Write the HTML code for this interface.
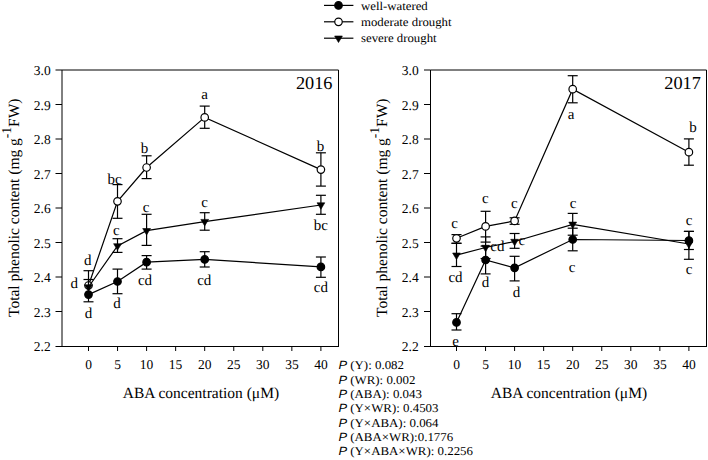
<!DOCTYPE html><html><head><meta charset="utf-8"><style>
html,body{margin:0;padding:0;background:#fff;}
svg{display:block;text-rendering:geometricPrecision;}
.tk{font-family:"Liberation Serif", serif;font-size:13.5px;fill:#000;}
.lb{font-family:"Liberation Serif", serif;font-size:15px;fill:#000;}
.ti{font-family:"Liberation Serif", serif;font-size:15.5px;fill:#000;}
.yr{font-family:"Liberation Serif", serif;font-size:18.3px;fill:#000;}
.lg{font-family:"Liberation Serif", serif;font-size:12px;fill:#000;}
.st{font-family:"Liberation Serif", serif;font-size:12px;fill:#000;}
.sp{font-family:"Liberation Sans", sans-serif;font-style:italic;}
</style></head><body>
<svg width="708" height="460" viewBox="0 0 708 460">
<rect width="708" height="460" fill="#fff"/>
<line x1="62" y1="70" x2="338.5" y2="70" stroke="#000" stroke-width="1.0"/>
<line x1="62" y1="70" x2="62" y2="346.5" stroke="#000" stroke-width="1.0"/>
<line x1="338.5" y1="70" x2="338.5" y2="347.0" stroke="#000" stroke-width="1.0"/>
<line x1="55.5" y1="346.5" x2="339.0" y2="346.5" stroke="#000" stroke-width="1.0"/>
<line x1="55.5" y1="70.0" x2="62" y2="70.0" stroke="#000" stroke-width="1.0"/>
<text x="50.7" y="75.0" text-anchor="end" class="tk">3.0</text>
<line x1="55.5" y1="104.5" x2="62" y2="104.5" stroke="#000" stroke-width="1.0"/>
<text x="50.7" y="109.5" text-anchor="end" class="tk">2.9</text>
<line x1="55.5" y1="139.0" x2="62" y2="139.0" stroke="#000" stroke-width="1.0"/>
<text x="50.7" y="144.0" text-anchor="end" class="tk">2.8</text>
<line x1="55.5" y1="173.5" x2="62" y2="173.5" stroke="#000" stroke-width="1.0"/>
<text x="50.7" y="178.5" text-anchor="end" class="tk">2.7</text>
<line x1="55.5" y1="208.0" x2="62" y2="208.0" stroke="#000" stroke-width="1.0"/>
<text x="50.7" y="213.0" text-anchor="end" class="tk">2.6</text>
<line x1="55.5" y1="242.5" x2="62" y2="242.5" stroke="#000" stroke-width="1.0"/>
<text x="50.7" y="247.5" text-anchor="end" class="tk">2.5</text>
<line x1="55.5" y1="277.0" x2="62" y2="277.0" stroke="#000" stroke-width="1.0"/>
<text x="50.7" y="282.0" text-anchor="end" class="tk">2.4</text>
<line x1="55.5" y1="311.5" x2="62" y2="311.5" stroke="#000" stroke-width="1.0"/>
<text x="50.7" y="316.5" text-anchor="end" class="tk">2.3</text>
<text x="50.7" y="351.0" text-anchor="end" class="tk">2.2</text>
<line x1="88.50" y1="346.5" x2="88.50" y2="351.0" stroke="#000" stroke-width="1.0"/>
<text x="88.5" y="368.5" text-anchor="middle" class="tk">0</text>
<line x1="117.55" y1="346.5" x2="117.55" y2="351.0" stroke="#000" stroke-width="1.0"/>
<text x="117.5" y="368.5" text-anchor="middle" class="tk">5</text>
<line x1="146.60" y1="346.5" x2="146.60" y2="351.0" stroke="#000" stroke-width="1.0"/>
<text x="146.6" y="368.5" text-anchor="middle" class="tk">10</text>
<line x1="175.65" y1="346.5" x2="175.65" y2="351.0" stroke="#000" stroke-width="1.0"/>
<text x="175.6" y="368.5" text-anchor="middle" class="tk">15</text>
<line x1="204.70" y1="346.5" x2="204.70" y2="351.0" stroke="#000" stroke-width="1.0"/>
<text x="204.7" y="368.5" text-anchor="middle" class="tk">20</text>
<line x1="233.75" y1="346.5" x2="233.75" y2="351.0" stroke="#000" stroke-width="1.0"/>
<text x="233.8" y="368.5" text-anchor="middle" class="tk">25</text>
<line x1="262.80" y1="346.5" x2="262.80" y2="351.0" stroke="#000" stroke-width="1.0"/>
<text x="262.8" y="368.5" text-anchor="middle" class="tk">30</text>
<line x1="291.85" y1="346.5" x2="291.85" y2="351.0" stroke="#000" stroke-width="1.0"/>
<text x="291.9" y="368.5" text-anchor="middle" class="tk">35</text>
<line x1="320.90" y1="346.5" x2="320.90" y2="351.0" stroke="#000" stroke-width="1.0"/>
<text x="320.9" y="368.5" text-anchor="middle" class="tk">40</text>
<polyline points="88.5,285.5 117.5,201.3 146.6,167.5 204.7,117.4 320.9,169.6" fill="none" stroke="#000" stroke-width="1.2"/>
<line x1="88.5" y1="270.7" x2="88.5" y2="285.5" stroke="#000" stroke-width="1.2"/>
<line x1="83.5" y1="270.7" x2="93.5" y2="270.7" stroke="#000" stroke-width="1.2"/>
<line x1="117.5" y1="184.6" x2="117.5" y2="201.3" stroke="#000" stroke-width="1.2"/>
<line x1="112.5" y1="184.6" x2="122.5" y2="184.6" stroke="#000" stroke-width="1.2"/>
<line x1="117.5" y1="201.3" x2="117.5" y2="218.3" stroke="#000" stroke-width="1.2"/>
<line x1="112.5" y1="218.3" x2="122.5" y2="218.3" stroke="#000" stroke-width="1.2"/>
<line x1="146.6" y1="155.8" x2="146.6" y2="167.5" stroke="#000" stroke-width="1.2"/>
<line x1="141.6" y1="155.8" x2="151.6" y2="155.8" stroke="#000" stroke-width="1.2"/>
<line x1="146.6" y1="167.5" x2="146.6" y2="178.6" stroke="#000" stroke-width="1.2"/>
<line x1="141.6" y1="178.6" x2="151.6" y2="178.6" stroke="#000" stroke-width="1.2"/>
<line x1="204.7" y1="106.1" x2="204.7" y2="117.4" stroke="#000" stroke-width="1.2"/>
<line x1="199.7" y1="106.1" x2="209.7" y2="106.1" stroke="#000" stroke-width="1.2"/>
<line x1="204.7" y1="117.4" x2="204.7" y2="128.3" stroke="#000" stroke-width="1.2"/>
<line x1="199.7" y1="128.3" x2="209.7" y2="128.3" stroke="#000" stroke-width="1.2"/>
<line x1="320.9" y1="152.8" x2="320.9" y2="169.6" stroke="#000" stroke-width="1.2"/>
<line x1="315.9" y1="152.8" x2="325.9" y2="152.8" stroke="#000" stroke-width="1.2"/>
<line x1="320.9" y1="169.6" x2="320.9" y2="186.1" stroke="#000" stroke-width="1.2"/>
<line x1="315.9" y1="186.1" x2="325.9" y2="186.1" stroke="#000" stroke-width="1.2"/>
<circle cx="88.5" cy="285.5" r="3.75" fill="#fff" stroke="#000" stroke-width="1.2"/>
<circle cx="117.5" cy="201.3" r="3.75" fill="#fff" stroke="#000" stroke-width="1.2"/>
<circle cx="146.6" cy="167.5" r="3.75" fill="#fff" stroke="#000" stroke-width="1.2"/>
<circle cx="204.7" cy="117.4" r="3.75" fill="#fff" stroke="#000" stroke-width="1.2"/>
<circle cx="320.9" cy="169.6" r="3.75" fill="#fff" stroke="#000" stroke-width="1.2"/>
<polyline points="88.5,287 117.5,245.9 146.6,230.7 204.7,221.6 320.9,205" fill="none" stroke="#000" stroke-width="1.2"/>
<line x1="88.5" y1="279.5" x2="88.5" y2="287" stroke="#000" stroke-width="1.2"/>
<line x1="83.5" y1="279.5" x2="93.5" y2="279.5" stroke="#000" stroke-width="1.2"/>
<line x1="117.5" y1="238.7" x2="117.5" y2="245.9" stroke="#000" stroke-width="1.2"/>
<line x1="112.5" y1="238.7" x2="122.5" y2="238.7" stroke="#000" stroke-width="1.2"/>
<line x1="117.5" y1="245.9" x2="117.5" y2="252.4" stroke="#000" stroke-width="1.2"/>
<line x1="112.5" y1="252.4" x2="122.5" y2="252.4" stroke="#000" stroke-width="1.2"/>
<line x1="146.6" y1="214.3" x2="146.6" y2="230.7" stroke="#000" stroke-width="1.2"/>
<line x1="141.6" y1="214.3" x2="151.6" y2="214.3" stroke="#000" stroke-width="1.2"/>
<line x1="146.6" y1="230.7" x2="146.6" y2="245.4" stroke="#000" stroke-width="1.2"/>
<line x1="141.6" y1="245.4" x2="151.6" y2="245.4" stroke="#000" stroke-width="1.2"/>
<line x1="204.7" y1="212.7" x2="204.7" y2="221.6" stroke="#000" stroke-width="1.2"/>
<line x1="199.7" y1="212.7" x2="209.7" y2="212.7" stroke="#000" stroke-width="1.2"/>
<line x1="204.7" y1="221.6" x2="204.7" y2="230.2" stroke="#000" stroke-width="1.2"/>
<line x1="199.7" y1="230.2" x2="209.7" y2="230.2" stroke="#000" stroke-width="1.2"/>
<line x1="320.9" y1="195.3" x2="320.9" y2="205" stroke="#000" stroke-width="1.2"/>
<line x1="315.9" y1="195.3" x2="325.9" y2="195.3" stroke="#000" stroke-width="1.2"/>
<line x1="320.9" y1="205" x2="320.9" y2="214.3" stroke="#000" stroke-width="1.2"/>
<line x1="315.9" y1="214.3" x2="325.9" y2="214.3" stroke="#000" stroke-width="1.2"/>
<polygon points="84.6,284.8 92.4,284.8 88.5,291.3" fill="#000" stroke="#000" stroke-width="0.6" stroke-linejoin="miter"/>
<polygon points="113.6,243.7 121.5,243.7 117.5,250.2" fill="#000" stroke="#000" stroke-width="0.6" stroke-linejoin="miter"/>
<polygon points="142.7,228.5 150.5,228.5 146.6,235.0" fill="#000" stroke="#000" stroke-width="0.6" stroke-linejoin="miter"/>
<polygon points="200.8,219.4 208.6,219.4 204.7,225.9" fill="#000" stroke="#000" stroke-width="0.6" stroke-linejoin="miter"/>
<polygon points="317.0,202.8 324.8,202.8 320.9,209.3" fill="#000" stroke="#000" stroke-width="0.6" stroke-linejoin="miter"/>
<polyline points="88.5,294.6 117.5,281.5 146.6,262.2 204.7,259.4 320.9,266.9" fill="none" stroke="#000" stroke-width="1.2"/>
<line x1="88.5" y1="294.6" x2="88.5" y2="301.8" stroke="#000" stroke-width="1.2"/>
<line x1="83.5" y1="301.8" x2="93.5" y2="301.8" stroke="#000" stroke-width="1.2"/>
<line x1="117.5" y1="269.1" x2="117.5" y2="281.5" stroke="#000" stroke-width="1.2"/>
<line x1="112.5" y1="269.1" x2="122.5" y2="269.1" stroke="#000" stroke-width="1.2"/>
<line x1="117.5" y1="281.5" x2="117.5" y2="293.7" stroke="#000" stroke-width="1.2"/>
<line x1="112.5" y1="293.7" x2="122.5" y2="293.7" stroke="#000" stroke-width="1.2"/>
<line x1="146.6" y1="255.6" x2="146.6" y2="262.2" stroke="#000" stroke-width="1.2"/>
<line x1="141.6" y1="255.6" x2="151.6" y2="255.6" stroke="#000" stroke-width="1.2"/>
<line x1="146.6" y1="262.2" x2="146.6" y2="269.1" stroke="#000" stroke-width="1.2"/>
<line x1="141.6" y1="269.1" x2="151.6" y2="269.1" stroke="#000" stroke-width="1.2"/>
<line x1="204.7" y1="251.7" x2="204.7" y2="259.4" stroke="#000" stroke-width="1.2"/>
<line x1="199.7" y1="251.7" x2="209.7" y2="251.7" stroke="#000" stroke-width="1.2"/>
<line x1="204.7" y1="259.4" x2="204.7" y2="267" stroke="#000" stroke-width="1.2"/>
<line x1="199.7" y1="267" x2="209.7" y2="267" stroke="#000" stroke-width="1.2"/>
<line x1="320.9" y1="257" x2="320.9" y2="266.9" stroke="#000" stroke-width="1.2"/>
<line x1="315.9" y1="257" x2="325.9" y2="257" stroke="#000" stroke-width="1.2"/>
<line x1="320.9" y1="266.9" x2="320.9" y2="277.3" stroke="#000" stroke-width="1.2"/>
<line x1="315.9" y1="277.3" x2="325.9" y2="277.3" stroke="#000" stroke-width="1.2"/>
<circle cx="88.5" cy="294.6" r="3.75" fill="#000" stroke="#000" stroke-width="1.2"/>
<circle cx="117.5" cy="281.5" r="3.75" fill="#000" stroke="#000" stroke-width="1.2"/>
<circle cx="146.6" cy="262.2" r="3.75" fill="#000" stroke="#000" stroke-width="1.2"/>
<circle cx="204.7" cy="259.4" r="3.75" fill="#000" stroke="#000" stroke-width="1.2"/>
<circle cx="320.9" cy="266.9" r="3.75" fill="#000" stroke="#000" stroke-width="1.2"/>
<text x="87.7" y="265.4" text-anchor="middle" class="lb">d</text>
<text x="74.2" y="288" text-anchor="middle" class="lb">d</text>
<text x="88.6" y="317.7" text-anchor="middle" class="lb">d</text>
<text x="114.7" y="184.3" text-anchor="middle" class="lb">bc</text>
<text x="116.3" y="235" text-anchor="middle" class="lb">c</text>
<text x="116.9" y="307.6" text-anchor="middle" class="lb">d</text>
<text x="144.5" y="153" text-anchor="middle" class="lb">b</text>
<text x="146.2" y="211.5" text-anchor="middle" class="lb">c</text>
<text x="145" y="285.4" text-anchor="middle" class="lb">cd</text>
<text x="204.7" y="98.7" text-anchor="middle" class="lb">a</text>
<text x="204.5" y="206.7" text-anchor="middle" class="lb">c</text>
<text x="204.3" y="285.2" text-anchor="middle" class="lb">cd</text>
<text x="320.5" y="150.7" text-anchor="middle" class="lb">b</text>
<text x="320.8" y="229.5" text-anchor="middle" class="lb">bc</text>
<text x="320.9" y="291.5" text-anchor="middle" class="lb">cd</text>
<text x="332.5" y="88.6" text-anchor="end" class="yr">2016</text>
<line x1="430.5" y1="70" x2="706.5" y2="70" stroke="#000" stroke-width="1.0"/>
<line x1="430.5" y1="70" x2="430.5" y2="346.5" stroke="#000" stroke-width="1.0"/>
<line x1="706.5" y1="70" x2="706.5" y2="347.0" stroke="#000" stroke-width="1.0"/>
<line x1="424.0" y1="346.5" x2="707.0" y2="346.5" stroke="#000" stroke-width="1.0"/>
<line x1="424.0" y1="70.0" x2="430.5" y2="70.0" stroke="#000" stroke-width="1.0"/>
<text x="418.7" y="75.0" text-anchor="end" class="tk">3.0</text>
<line x1="424.0" y1="104.5" x2="430.5" y2="104.5" stroke="#000" stroke-width="1.0"/>
<text x="418.7" y="109.5" text-anchor="end" class="tk">2.9</text>
<line x1="424.0" y1="139.0" x2="430.5" y2="139.0" stroke="#000" stroke-width="1.0"/>
<text x="418.7" y="144.0" text-anchor="end" class="tk">2.8</text>
<line x1="424.0" y1="173.5" x2="430.5" y2="173.5" stroke="#000" stroke-width="1.0"/>
<text x="418.7" y="178.5" text-anchor="end" class="tk">2.7</text>
<line x1="424.0" y1="208.0" x2="430.5" y2="208.0" stroke="#000" stroke-width="1.0"/>
<text x="418.7" y="213.0" text-anchor="end" class="tk">2.6</text>
<line x1="424.0" y1="242.5" x2="430.5" y2="242.5" stroke="#000" stroke-width="1.0"/>
<text x="418.7" y="247.5" text-anchor="end" class="tk">2.5</text>
<line x1="424.0" y1="277.0" x2="430.5" y2="277.0" stroke="#000" stroke-width="1.0"/>
<text x="418.7" y="282.0" text-anchor="end" class="tk">2.4</text>
<line x1="424.0" y1="311.5" x2="430.5" y2="311.5" stroke="#000" stroke-width="1.0"/>
<text x="418.7" y="316.5" text-anchor="end" class="tk">2.3</text>
<text x="418.7" y="351.0" text-anchor="end" class="tk">2.2</text>
<line x1="456.50" y1="346.5" x2="456.50" y2="351.0" stroke="#000" stroke-width="1.0"/>
<text x="456.5" y="368.5" text-anchor="middle" class="tk">0</text>
<line x1="485.55" y1="346.5" x2="485.55" y2="351.0" stroke="#000" stroke-width="1.0"/>
<text x="485.6" y="368.5" text-anchor="middle" class="tk">5</text>
<line x1="514.60" y1="346.5" x2="514.60" y2="351.0" stroke="#000" stroke-width="1.0"/>
<text x="514.6" y="368.5" text-anchor="middle" class="tk">10</text>
<line x1="543.65" y1="346.5" x2="543.65" y2="351.0" stroke="#000" stroke-width="1.0"/>
<text x="543.6" y="368.5" text-anchor="middle" class="tk">15</text>
<line x1="572.70" y1="346.5" x2="572.70" y2="351.0" stroke="#000" stroke-width="1.0"/>
<text x="572.7" y="368.5" text-anchor="middle" class="tk">20</text>
<line x1="601.75" y1="346.5" x2="601.75" y2="351.0" stroke="#000" stroke-width="1.0"/>
<text x="601.8" y="368.5" text-anchor="middle" class="tk">25</text>
<line x1="630.80" y1="346.5" x2="630.80" y2="351.0" stroke="#000" stroke-width="1.0"/>
<text x="630.8" y="368.5" text-anchor="middle" class="tk">30</text>
<line x1="659.85" y1="346.5" x2="659.85" y2="351.0" stroke="#000" stroke-width="1.0"/>
<text x="659.9" y="368.5" text-anchor="middle" class="tk">35</text>
<line x1="688.90" y1="346.5" x2="688.90" y2="351.0" stroke="#000" stroke-width="1.0"/>
<text x="688.9" y="368.5" text-anchor="middle" class="tk">40</text>
<polyline points="456.5,238.3 485.6,226.4 514.6,220.9 572.7,89.2 688.9,152.2" fill="none" stroke="#000" stroke-width="1.2"/>
<line x1="456.5" y1="234.6" x2="456.5" y2="238.3" stroke="#000" stroke-width="1.2"/>
<line x1="451.5" y1="234.6" x2="461.5" y2="234.6" stroke="#000" stroke-width="1.2"/>
<line x1="456.5" y1="238.3" x2="456.5" y2="243.3" stroke="#000" stroke-width="1.2"/>
<line x1="451.5" y1="243.3" x2="461.5" y2="243.3" stroke="#000" stroke-width="1.2"/>
<line x1="485.6" y1="211.3" x2="485.6" y2="226.4" stroke="#000" stroke-width="1.2"/>
<line x1="480.6" y1="211.3" x2="490.6" y2="211.3" stroke="#000" stroke-width="1.2"/>
<line x1="485.6" y1="226.4" x2="485.6" y2="242.1" stroke="#000" stroke-width="1.2"/>
<line x1="480.6" y1="242.1" x2="490.6" y2="242.1" stroke="#000" stroke-width="1.2"/>
<line x1="514.6" y1="217.8" x2="514.6" y2="220.9" stroke="#000" stroke-width="1.2"/>
<line x1="509.6" y1="217.8" x2="519.6" y2="217.8" stroke="#000" stroke-width="1.2"/>
<line x1="514.6" y1="220.9" x2="514.6" y2="224.3" stroke="#000" stroke-width="1.2"/>
<line x1="509.6" y1="224.3" x2="519.6" y2="224.3" stroke="#000" stroke-width="1.2"/>
<line x1="572.7" y1="75.7" x2="572.7" y2="89.2" stroke="#000" stroke-width="1.2"/>
<line x1="567.7" y1="75.7" x2="577.7" y2="75.7" stroke="#000" stroke-width="1.2"/>
<line x1="572.7" y1="89.2" x2="572.7" y2="102.8" stroke="#000" stroke-width="1.2"/>
<line x1="567.7" y1="102.8" x2="577.7" y2="102.8" stroke="#000" stroke-width="1.2"/>
<line x1="688.9" y1="138.9" x2="688.9" y2="152.2" stroke="#000" stroke-width="1.2"/>
<line x1="683.9" y1="138.9" x2="693.9" y2="138.9" stroke="#000" stroke-width="1.2"/>
<line x1="688.9" y1="152.2" x2="688.9" y2="165.2" stroke="#000" stroke-width="1.2"/>
<line x1="683.9" y1="165.2" x2="693.9" y2="165.2" stroke="#000" stroke-width="1.2"/>
<circle cx="456.5" cy="238.3" r="3.75" fill="#fff" stroke="#000" stroke-width="1.2"/>
<circle cx="485.6" cy="226.4" r="3.75" fill="#fff" stroke="#000" stroke-width="1.2"/>
<circle cx="514.6" cy="220.9" r="3.75" fill="#fff" stroke="#000" stroke-width="1.2"/>
<circle cx="572.7" cy="89.2" r="3.75" fill="#fff" stroke="#000" stroke-width="1.2"/>
<circle cx="688.9" cy="152.2" r="3.75" fill="#fff" stroke="#000" stroke-width="1.2"/>
<polyline points="456.5,255.2 485.6,247.5 514.6,241.5 572.7,224.3 688.9,244" fill="none" stroke="#000" stroke-width="1.2"/>
<line x1="456.5" y1="243.3" x2="456.5" y2="255.2" stroke="#000" stroke-width="1.2"/>
<line x1="451.5" y1="243.3" x2="461.5" y2="243.3" stroke="#000" stroke-width="1.2"/>
<line x1="456.5" y1="255.2" x2="456.5" y2="266.5" stroke="#000" stroke-width="1.2"/>
<line x1="451.5" y1="266.5" x2="461.5" y2="266.5" stroke="#000" stroke-width="1.2"/>
<line x1="485.6" y1="236.9" x2="485.6" y2="247.5" stroke="#000" stroke-width="1.2"/>
<line x1="480.6" y1="236.9" x2="490.6" y2="236.9" stroke="#000" stroke-width="1.2"/>
<line x1="485.6" y1="247.5" x2="485.6" y2="258.5" stroke="#000" stroke-width="1.2"/>
<line x1="480.6" y1="258.5" x2="490.6" y2="258.5" stroke="#000" stroke-width="1.2"/>
<line x1="514.6" y1="233.5" x2="514.6" y2="241.5" stroke="#000" stroke-width="1.2"/>
<line x1="509.6" y1="233.5" x2="519.6" y2="233.5" stroke="#000" stroke-width="1.2"/>
<line x1="514.6" y1="241.5" x2="514.6" y2="248.3" stroke="#000" stroke-width="1.2"/>
<line x1="509.6" y1="248.3" x2="519.6" y2="248.3" stroke="#000" stroke-width="1.2"/>
<line x1="572.7" y1="213.4" x2="572.7" y2="224.3" stroke="#000" stroke-width="1.2"/>
<line x1="567.7" y1="213.4" x2="577.7" y2="213.4" stroke="#000" stroke-width="1.2"/>
<line x1="572.7" y1="224.3" x2="572.7" y2="235.2" stroke="#000" stroke-width="1.2"/>
<line x1="567.7" y1="235.2" x2="577.7" y2="235.2" stroke="#000" stroke-width="1.2"/>
<line x1="688.9" y1="231.4" x2="688.9" y2="244" stroke="#000" stroke-width="1.2"/>
<line x1="683.9" y1="231.4" x2="693.9" y2="231.4" stroke="#000" stroke-width="1.2"/>
<line x1="688.9" y1="244" x2="688.9" y2="259.3" stroke="#000" stroke-width="1.2"/>
<line x1="683.9" y1="259.3" x2="693.9" y2="259.3" stroke="#000" stroke-width="1.2"/>
<polygon points="452.6,253.0 460.4,253.0 456.5,259.5" fill="#000" stroke="#000" stroke-width="0.6" stroke-linejoin="miter"/>
<polygon points="481.7,245.3 489.4,245.3 485.6,251.8" fill="#000" stroke="#000" stroke-width="0.6" stroke-linejoin="miter"/>
<polygon points="510.7,239.3 518.5,239.3 514.6,245.8" fill="#000" stroke="#000" stroke-width="0.6" stroke-linejoin="miter"/>
<polygon points="568.8,222.1 576.6,222.1 572.7,228.6" fill="#000" stroke="#000" stroke-width="0.6" stroke-linejoin="miter"/>
<polygon points="685.0,241.8 692.8,241.8 688.9,248.3" fill="#000" stroke="#000" stroke-width="0.6" stroke-linejoin="miter"/>
<polyline points="456.5,322.4 485.6,260 514.6,267.8 572.7,239.5 688.9,240.5" fill="none" stroke="#000" stroke-width="1.2"/>
<line x1="456.5" y1="313.7" x2="456.5" y2="322.4" stroke="#000" stroke-width="1.2"/>
<line x1="451.5" y1="313.7" x2="461.5" y2="313.7" stroke="#000" stroke-width="1.2"/>
<line x1="456.5" y1="322.4" x2="456.5" y2="330" stroke="#000" stroke-width="1.2"/>
<line x1="451.5" y1="330" x2="461.5" y2="330" stroke="#000" stroke-width="1.2"/>
<line x1="485.6" y1="246.1" x2="485.6" y2="260" stroke="#000" stroke-width="1.2"/>
<line x1="480.6" y1="246.1" x2="490.6" y2="246.1" stroke="#000" stroke-width="1.2"/>
<line x1="485.6" y1="260" x2="485.6" y2="273.9" stroke="#000" stroke-width="1.2"/>
<line x1="480.6" y1="273.9" x2="490.6" y2="273.9" stroke="#000" stroke-width="1.2"/>
<line x1="514.6" y1="256.3" x2="514.6" y2="267.8" stroke="#000" stroke-width="1.2"/>
<line x1="509.6" y1="256.3" x2="519.6" y2="256.3" stroke="#000" stroke-width="1.2"/>
<line x1="514.6" y1="267.8" x2="514.6" y2="280.9" stroke="#000" stroke-width="1.2"/>
<line x1="509.6" y1="280.9" x2="519.6" y2="280.9" stroke="#000" stroke-width="1.2"/>
<line x1="572.7" y1="228.2" x2="572.7" y2="239.5" stroke="#000" stroke-width="1.2"/>
<line x1="567.7" y1="228.2" x2="577.7" y2="228.2" stroke="#000" stroke-width="1.2"/>
<line x1="572.7" y1="239.5" x2="572.7" y2="250.8" stroke="#000" stroke-width="1.2"/>
<line x1="567.7" y1="250.8" x2="577.7" y2="250.8" stroke="#000" stroke-width="1.2"/>
<line x1="688.9" y1="231.4" x2="688.9" y2="240.5" stroke="#000" stroke-width="1.2"/>
<line x1="683.9" y1="231.4" x2="693.9" y2="231.4" stroke="#000" stroke-width="1.2"/>
<line x1="688.9" y1="240.5" x2="688.9" y2="249.5" stroke="#000" stroke-width="1.2"/>
<line x1="683.9" y1="249.5" x2="693.9" y2="249.5" stroke="#000" stroke-width="1.2"/>
<circle cx="456.5" cy="322.4" r="3.75" fill="#000" stroke="#000" stroke-width="1.2"/>
<circle cx="485.6" cy="260" r="3.75" fill="#000" stroke="#000" stroke-width="1.2"/>
<circle cx="514.6" cy="267.8" r="3.75" fill="#000" stroke="#000" stroke-width="1.2"/>
<circle cx="572.7" cy="239.5" r="3.75" fill="#000" stroke="#000" stroke-width="1.2"/>
<circle cx="688.9" cy="240.5" r="3.75" fill="#000" stroke="#000" stroke-width="1.2"/>
<text x="454.5" y="228" text-anchor="middle" class="lb">c</text>
<text x="455.5" y="281.5" text-anchor="middle" class="lb">cd</text>
<text x="455.6" y="345.9" text-anchor="middle" class="lb">e</text>
<text x="485.3" y="203" text-anchor="middle" class="lb">c</text>
<text x="490.3" y="250.9" text-anchor="start" class="lb">cd</text>
<text x="485.5" y="287.4" text-anchor="middle" class="lb">d</text>
<text x="514.3" y="207.8" text-anchor="middle" class="lb">c</text>
<text x="518.6" y="245.4" text-anchor="start" class="lb">c</text>
<text x="516.5" y="296.5" text-anchor="middle" class="lb">d</text>
<text x="571" y="119.3" text-anchor="middle" class="lb">a</text>
<text x="573" y="207.8" text-anchor="middle" class="lb">c</text>
<text x="572.2" y="272.4" text-anchor="middle" class="lb">c</text>
<text x="693" y="132" text-anchor="middle" class="lb">b</text>
<text x="689" y="224.8" text-anchor="middle" class="lb">c</text>
<text x="689" y="274.3" text-anchor="middle" class="lb">c</text>
<text x="700.8" y="89" text-anchor="end" class="yr">2017</text>
<text transform="translate(19.2,317) rotate(-90)" class="ti" x="0" y="0">Total phenolic content (mg g<tspan dy="-8.5" font-size="13.5">-1</tspan><tspan dy="8.5">FW)</tspan></text>
<text transform="translate(387.2,317) rotate(-90)" class="ti" x="0" y="0">Total phenolic content (mg g<tspan dy="-8.5" font-size="13.5">-1</tspan><tspan dy="8.5">FW)</tspan></text>
<text x="122.7" y="397.5" class="ti">ABA concentration (μM)</text>
<text x="490.7" y="397.5" class="ti">ABA concentration (μM)</text>
<line x1="324" y1="5.4" x2="353.4" y2="5.4" stroke="#000" stroke-width="1.2"/>
<circle cx="338.5" cy="5.4" r="3.75" fill="#000" stroke="#000" stroke-width="1.2"/>
<text transform="translate(361,9.6) scale(1.065,1)" class="lg">well-watered</text>
<line x1="324" y1="21.8" x2="353.4" y2="21.8" stroke="#000" stroke-width="1.2"/>
<circle cx="338.5" cy="21.8" r="3.75" fill="#fff" stroke="#000" stroke-width="1.2"/>
<text transform="translate(361,26.0) scale(1.065,1)" class="lg">moderate drought</text>
<line x1="324" y1="38.2" x2="353.4" y2="38.2" stroke="#000" stroke-width="1.2"/>
<polygon points="334.6,36.0 342.4,36.0 338.5,42.5" fill="#000" stroke="#000" stroke-width="0.6" stroke-linejoin="miter"/>
<text transform="translate(361,42.4) scale(1.065,1)" class="lg">severe drought</text>
<text transform="translate(338.4,369.4) scale(1.075,1)" class="st"><tspan class="sp">P</tspan> (Y): 0.082</text>
<text transform="translate(338.4,383.7) scale(1.075,1)" class="st"><tspan class="sp">P</tspan> (WR): 0.002</text>
<text transform="translate(338.4,398.1) scale(1.075,1)" class="st"><tspan class="sp">P</tspan> (ABA): 0.043</text>
<text transform="translate(338.4,412.4) scale(1.075,1)" class="st"><tspan class="sp">P</tspan> (Y×WR): 0.4503</text>
<text transform="translate(338.4,426.7) scale(1.075,1)" class="st"><tspan class="sp">P</tspan> (Y×ABA): 0.064</text>
<text transform="translate(338.4,441.0) scale(1.075,1)" class="st"><tspan class="sp">P</tspan> (ABA×WR):0.1776</text>
<text transform="translate(338.4,455.4) scale(1.075,1)" class="st"><tspan class="sp">P</tspan> (Y×ABA×WR): 0.2256</text>
</svg></body></html>
